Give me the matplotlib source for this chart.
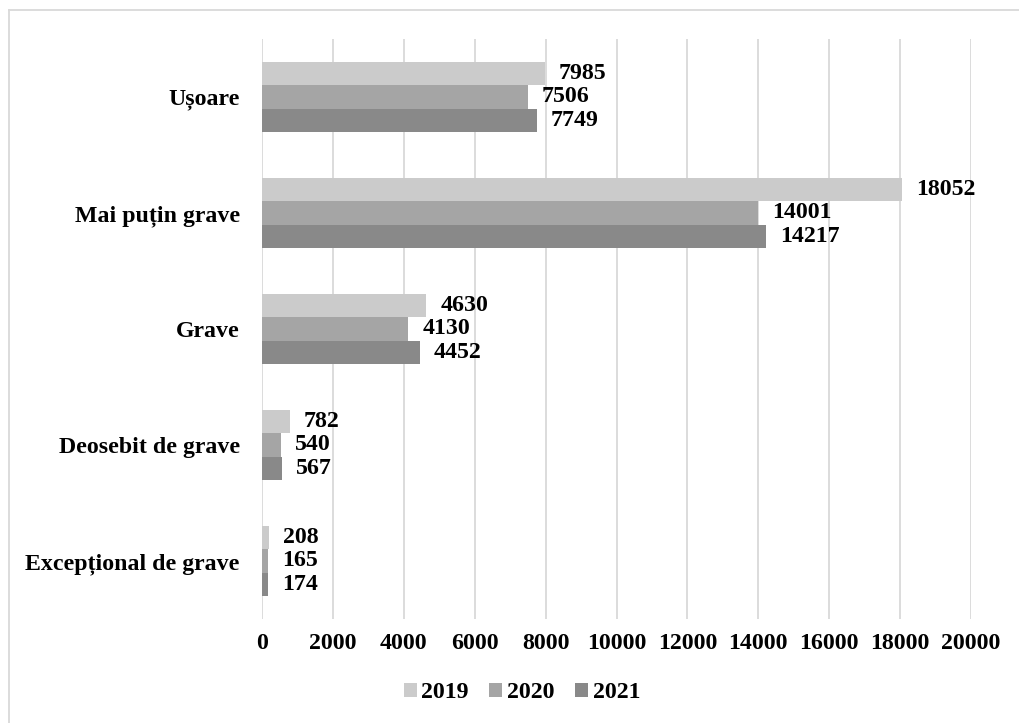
import matplotlib
matplotlib.use("Agg")
import matplotlib.pyplot as plt
from matplotlib.lines import Line2D
import numpy as np

categories = ["Ușoare", "Mai puțin grave", "Grave", "Deosebit de grave", "Excepțional de grave"]
years = ["2019", "2020", "2021"]
v2019 = [7985, 18052, 4630, 782, 208]
v2020 = [7506, 14001, 4130, 540, 165]
v2021 = [7749, 14217, 4452, 567, 174]
xticks = [0, 2000, 4000, 6000, 8000, 10000, 12000, 14000, 16000, 18000, 20000]

colors = ["#CBCBCB", "#A5A5A5", "#898989"]
series = [v2019, v2020, v2021]

plt.rcParams['font.family'] = ['Liberation Serif', 'DejaVu Serif']
plt.rcParams['font.weight'] = 'bold'
FS = 17.2

fig = plt.figure(figsize=(10.19, 7.23), dpi=100)
ax = fig.add_axes([262/1019, 104/723, 709/1019, 580/723])

y = np.arange(len(categories))
h = 0.204
for i, (vals, c, yr) in enumerate(zip(series, colors, years)):
    pos = y + (i - 1) * h
    ax.barh(pos, vals, height=h, color=c, label=yr, zorder=3)
    for p, v in zip(pos, vals):
        ax.annotate(f"{v}", xy=(v, p), xytext=(14, 0), textcoords="offset pixels",
                    ha="left", va="center", fontsize=FS, fontweight="bold", color="black")

ax.set_xlim(0, 20000)
ax.set_ylim(len(categories) - 0.5, -0.5)
ax.set_xticks(xticks)
ax.set_xticklabels([str(t) for t in xticks], fontsize=FS, fontweight="bold")
ax.set_yticks(y)
ax.set_yticklabels(categories, fontsize=FS, fontweight="bold")
ax.tick_params(axis="both", length=0)
ax.tick_params(axis="x", pad=10)
ax.tick_params(axis="y", pad=16)
ax.grid(axis="x", color="#D9D9D9", linewidth=1.3, zorder=0)
for s in ax.spines.values():
    s.set_visible(False)

fig.legend(loc="center", bbox_to_anchor=(522/1019, 1 - 693/723), ncol=3, frameon=False,
           prop={"size": FS, "weight": "bold"}, handlelength=0.55, handleheight=0.55,
           handletextpad=0.2, columnspacing=0.85)

# figure border (left and top visible)
fig.add_artist(Line2D([9/1019, 9/1019], [0, 1 - 10/723], transform=fig.transFigure, color="#D9D9D9", linewidth=1.3))
fig.add_artist(Line2D([9/1019, 1], [1 - 10/723, 1 - 10/723], transform=fig.transFigure, color="#D9D9D9", linewidth=1.3))

fig.savefig("out.png", dpi=100)
